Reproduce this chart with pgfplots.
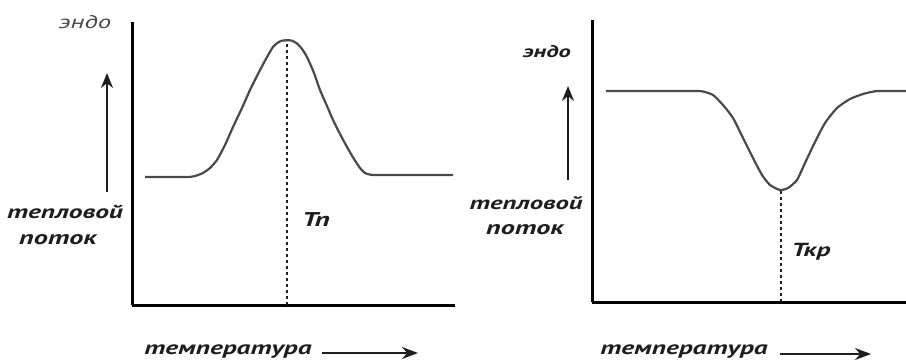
\documentclass[border=0pt]{standalone}
\usepackage{pgfplots}
\pgfplotsset{compat=1.18}
\usepackage{fontspec}
\setmainfont{PT Sans}
\newfontfamily\lbl{PT Sans}[FakeStretch=1.45]
\usetikzlibrary{arrows.meta}
\definecolor{curve}{HTML}{4A4A4A}
\definecolor{ink}{HTML}{1E1E1E}

\begin{document}
\begin{tikzpicture}[x=1bp,y=1bp]
\path[use as bounding box] (0,0) rectangle (906,363);
\pgfplotsset{
  dsc/.style={
    scale only axis, anchor=south west, clip=false,
    axis x line=bottom, axis y line=left,
    axis line style={line width=3bp, black, -},
    every outer x axis line/.append style={-},
    every outer y axis line/.append style={-},
    xtick=\empty, ytick=\empty,
  },
  flow/.style={smooth, tension=0.35, color=curve, line width=2.2bp},
  mark line/.style={ink, line width=2.6bp, dash pattern=on 3bp off 3bp},
}
\newcommand\sz[1]{\lbl\bfseries\itshape\fontsize{#1}{#1}\selectfont}
\tikzset{
  lab/.style={text=ink, inner sep=0pt},
  uparrow/.style={ink, line width=1.6bp, -{Stealth[length=15bp,width=12bp]}},
  rtarrow/.style={ink, line width=1.6bp, -{Stealth[length=16bp,width=12bp]}},
}

% melting: endothermic peak
\begin{axis}[dsc, at={(132bp,58bp)}, width=323bp, height=283bp,
  xmin=0, xmax=323, ymin=0, ymax=283]
\addplot[flow] coordinates {
  (13,128) (55,128) (63,129) (71,132) (78,137) (85,145) (93,160)
  (101,178) (110,197) (118,215) (127,233) (135,248) (141,258)
  (146,262.5) (150,264.3) (155,264.8) (160,264.3) (165,261.5)
  (170,256) (175,248) (182,232) (188,215) (195,199) (201,185)
  (208,171) (215,158) (222,146) (228,137) (233,132) (240,130)
  (250,130) (321,130)};
\addplot[mark line] coordinates {(155,0) (155,264)};
\end{axis}

% crystallisation: exothermic dip
\begin{axis}[dsc, at={(592bp,61bp)}, width=314bp, height=282bp,
  xmin=0, xmax=314, ymin=0, ymax=282]
\addplot[flow] coordinates {
  (14,211) (100,211) (111,210.5) (121,207) (131,197) (141,184)
  (151,164) (161,144) (170,127) (178,117) (188,112) (196,114)
  (205,122) (213,139) (223,160) (233,179) (245,194) (258,203)
  (271,208) (283,210.7) (295,211) (314,211)};
\addplot[mark line] coordinates {(189,0) (189,112)};
\end{axis}

% left panel labels
\node[lab, font=\lbl\itshape\fontsize{18.5}{18.5}\selectfont, text=curve] at (85,341) {эндо};
\draw[uparrow] (107,171) -- (107,290);
\node[lab, font=\sz{19}] at (65,151) {тепловой};
\node[lab, font=\sz{19.5}] at (58,123) {поток};
\node[lab, font=\sz{20}] at (316,143) {Тп};
\node[lab, font=\sz{19}] at (228,11) {температура};
\draw[rtarrow] (322,10) -- (418,10);

% right panel labels
\node[lab, font=\sz{17}] at (547,311) {эндо};
\draw[uparrow] (568,183) -- (568,277);
\node[lab, font=\sz{18.5}] at (526,160) {тепловой};
\node[lab, font=\sz{19.5}] at (525,133) {поток};
\node[lab, font=\sz{19}] at (811,111) {Ткр};
\node[lab, font=\sz{19}] at (684,11) {температура};
\draw[rtarrow] (780,9) -- (871,9);
\end{tikzpicture}
\end{document}
